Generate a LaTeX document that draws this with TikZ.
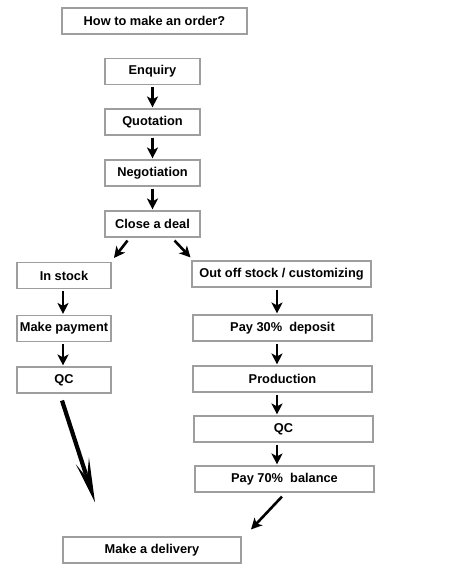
\documentclass[tikz,border=0pt]{standalone}
\usepackage{fontspec}
\setmainfont{Liberation Sans}
\usetikzlibrary{arrows.meta}
\begin{document}
\begin{tikzpicture}[x=1pt,y=1pt,
  box/.style={draw=black!38, line width=1.1pt, fill=white, inner sep=0pt,
    minimum height=26pt, font=\fontsize{12.8}{14}\selectfont\bfseries},
  arr/.style={line width=2.6pt, -{Stealth[length=11pt,width=11pt,inset=3pt]}},
  bigshaft/.style={line width=4.2pt}]
\useasboundingbox[fill=white] (0,0) rectangle (452,-567);
\node[box, minimum width=185pt] (title) at (154.5,-21) {How to make an order?};
\node[box, minimum width=95pt] (enq) at (152.5,-71.5) {Enquiry};
\node[box, minimum width=95pt] (quo) at (152.5,-122) {Quotation};
\node[box, minimum width=95pt] (neg) at (152.5,-173) {Negotiation};
\node[box, minimum width=95pt] (close) at (152.5,-224) {Close a deal};
\node[box, minimum width=94pt] (instock) at (64,-275.5) {In stock};
\node[box, minimum width=94pt] (pay) at (64,-328.5) {Make payment};
\node[box, minimum width=94pt] (qcl) at (64,-380) {QC};
\node[box, minimum width=179pt] (oos) at (281.5,-274) {Out off stock / customizing};
\node[box, minimum width=179pt] (p30) at (282.5,-328) {Pay 30\%\ \ deposit};
\node[box, minimum width=179pt] (prod) at (282.5,-379) {Production};
\node[box, minimum width=179pt] (qcr) at (283.5,-429) {QC};
\node[box, minimum width=179pt] (p70) at (284.5,-479) {Pay 70\%\ \ balance};
\node[box, minimum width=178pt] (deliv) at (152,-550) {Make a delivery};
\draw[arr] ([yshift=-2pt]enq.south) -- ([yshift=1pt]quo.north);
\draw[arr] ([yshift=-2pt]quo.south) -- ([yshift=1pt]neg.north);
\draw[arr] ([yshift=-2pt]neg.south) -- ([yshift=1pt]close.north);
\draw[arr] ([xshift=-25pt,yshift=-3pt]close.south) -- ([xshift=50pt,yshift=4pt]instock.north);
\draw[arr] ([xshift=22pt,yshift=-3pt]close.south) -- ([xshift=-91pt,yshift=3pt]oos.north);
\draw[arr] ([xshift=-1pt,yshift=-2pt]instock.south) -- ([xshift=-1pt,yshift=1pt]pay.north);
\draw[arr] ([xshift=-1pt,yshift=-2pt]pay.south) -- ([xshift=-1pt,yshift=1pt]qcl.north);
\draw[arr] ([xshift=-4.5pt,yshift=-2pt]oos.south) -- ([xshift=-5.5pt,yshift=1pt]p30.north);
\draw[arr] ([xshift=-5.5pt,yshift=-2pt]p30.south) -- ([xshift=-5.5pt,yshift=1pt]prod.north);
\draw[arr] ([xshift=-5.5pt,yshift=-2pt]prod.south) -- ([xshift=-6.5pt,yshift=1pt]qcr.north);
\draw[arr] ([xshift=-6.5pt,yshift=-2pt]qcr.south) -- ([xshift=-7.5pt,yshift=1pt]p70.north);
% big arrow from left QC towards the delivery
\coordinate (bs) at ([xshift=-2pt,yshift=-7pt]qcl.south);
\coordinate (be) at ([xshift=-57pt,yshift=34pt]deliv.north);
\begin{scope}[shift={(be)}, rotate=-72.2]
  \coordinate (bk) at (-30,0);
  \fill (0,0) -- (-44.7,8) -- (-30,1.8) -- (-30,-1.8) -- (-42,-6.5) -- cycle;
\end{scope}
\draw[bigshaft] (bs) -- (bk);
\draw[arr] ([xshift=-2.5pt,yshift=-4pt]p70.south) -- ([xshift=99pt,yshift=7pt]deliv.north);
\end{tikzpicture}
\end{document}
